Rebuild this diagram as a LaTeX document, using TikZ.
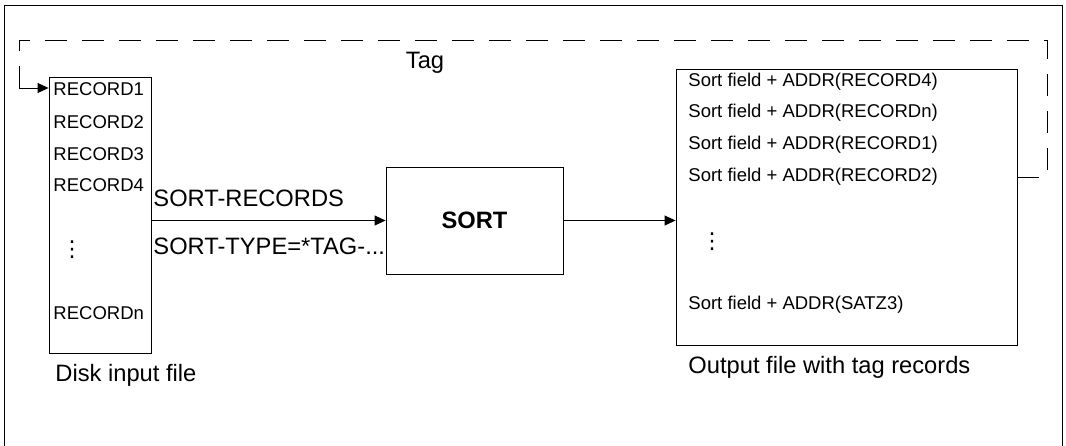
\documentclass[tikz,border=0pt]{standalone}
\usepackage{fontspec}
\setmainfont{Liberation Sans}
\newfontfamily\dotsfont{DejaVu Sans}
\usetikzlibrary{arrows.meta}
\usetikzlibrary{positioning, calc}

\begin{document}
\begin{tikzpicture}[x=1pt, y=-1pt, line width=0.9pt,
    small/.style={font=\fontsize{18.5}{22}\selectfont, inner sep=0pt, anchor=west},
    big/.style={font=\fontsize{23.7}{28}\selectfont, inner sep=0pt},
    vdots/.style={font=\dotsfont\fontsize{22}{24}\selectfont, inner sep=0pt},
    flow/.style={-{Triangle[length=11pt, width=10pt]}}]
    \useasboundingbox (0,0) rectangle (1066,445);

    % Frame
    \draw (4,450) -- (4,5) -- (1062,5) -- (1062,450);

    % Boxes
    \node[draw, minimum width=102pt, minimum height=276pt, inner sep=0pt] (infile) at (100,215) {};
    \node[draw, minimum width=341pt, minimum height=276pt, inner sep=0pt] (outfile) at (846.5,207) {};
    \node[draw, minimum width=177pt, minimum height=107pt, big, font=\fontsize{23.7}{28}\selectfont\bfseries] (sortbox) at (474.5,220.5) {SORT};

    % Input records
    \node[small] (rec1) at (53,89) {RECORD1};
    \node[small] (rec2) at (53,122) {RECORD2};
    \node[small] (rec3) at (53,154) {RECORD3};
    \node[small] (rec4) at (53,185) {RECORD4};
    \node[vdots] (recdots) at (72,250) {⋮};
    \node[small] (recn) at (53,313) {RECORDn};
    \node[big, anchor=west] (inlabel) at (55,375) {Disk input file};

    % Tag records
    \node[small] (tag1) at (688,82) {Sort field + ADDR(RECORD4)};
    \node[small] (tag2) at (688,113) {Sort field + ADDR(RECORDn)};
    \node[small] (tag3) at (688,145) {Sort field + ADDR(RECORD1)};
    \node[small] (tag4) at (688,177) {Sort field + ADDR(RECORD2)};
    \node[vdots] (tagdots) at (712,242) {⋮};
    \node[small] (tagn) at (688,305) {Sort field + ADDR(SATZ3)};
    \node[big, anchor=west] (outlabel) at (688,367) {Output file with tag records};

    % Flow
    \draw[flow] (infile.east |- sortbox) -- (sortbox.west);
    \draw[flow] (sortbox.east) -- (outfile.west |- sortbox);
    \node[big, anchor=west] (sortrec) at (153,198) {SORT-RECORDS};
    \node[big, anchor=west] (sorttype) at (153,246) {SORT-TYPE=*TAG-...};

    % Feedback
    \coordinate (back) at (1047,177);
    \coordinate (top) at (19,40);
    \coordinate (bend) at (19,88);
    \draw[dash pattern=on 22pt off 15pt] (outfile.east |- back) -- (back) |- (top) -- (19,78);
    \draw (19,78) -- (bend);
    \draw[flow] (bend) -- (infile.west |- bend);
    \node[big] (taglabel) at (425,63) {Tag};
\end{tikzpicture}
\end{document}
